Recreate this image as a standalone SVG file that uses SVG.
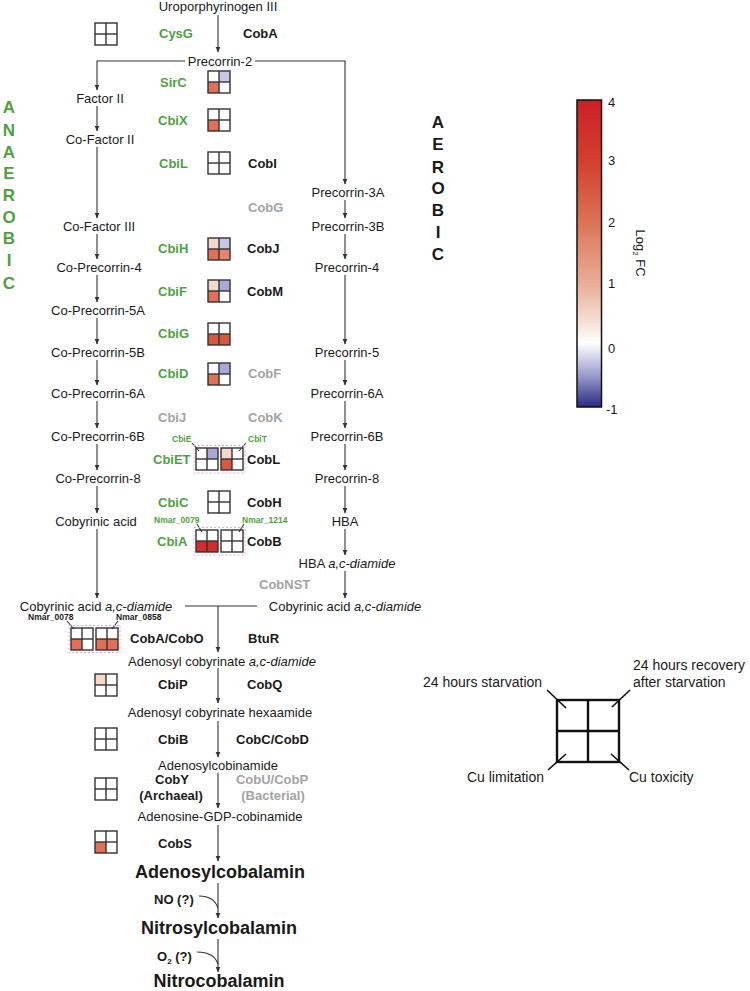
<svg xmlns="http://www.w3.org/2000/svg" xmlns:xlink="http://www.w3.org/1999/xlink" width="750" height="991" viewBox="0 0 750 991">
<style>
text{font-family:"Liberation Sans",Arial,sans-serif;fill:#1a1a1a}
.m{font-size:13px;text-anchor:middle}
.e{font-size:13px;font-weight:bold}
.g{fill:#4fa043}
.gr{fill:#a3a3a3}
.s{font-size:8.5px;font-weight:bold}
.big{font-size:18px;font-weight:bold;text-anchor:middle}
.lt{font-size:17px;font-weight:bold;text-anchor:middle}
.cb{font-size:13px}
.lg{font-size:14px}
.ln{stroke:#333;stroke-width:1.1;fill:none}
.ar{stroke:#333;stroke-width:1.1;fill:none;marker-end:url(#ah)}
.fr{fill:none;stroke:#333;stroke-width:1.4}
.dash{fill:none;stroke:#e9a3b3;stroke-width:0.9;stroke-dasharray:2 2}
.c1{fill:#d42b2b}.c2{fill:#da593e}.c3{fill:#e07058}.c4{fill:#f4d8cc}.c5{fill:#c6c6e8}.c6{fill:#a8a8da}.c7{fill:#e4866c}
</style>
<defs>
<marker id="ah" markerWidth="6" markerHeight="6" refX="5.5" refY="3" orient="auto" markerUnits="userSpaceOnUse"><path d="M0,0.5 L6,3 L0,5.5 z" fill="#333"/></marker>
<g id="grid"><rect x="0" y="0" width="22" height="22" class="fr"/><line x1="11" y1="0" x2="11" y2="22" class="fr"/><line x1="0" y1="11" x2="22" y2="11" class="fr"/></g>
<linearGradient id="cbar" x1="0" y1="0" x2="0" y2="1">
<stop offset="0" stop-color="#cc1f27"/>
<stop offset="0.2" stop-color="#d3402f"/>
<stop offset="0.4" stop-color="#db7457"/>
<stop offset="0.6" stop-color="#e8ae97"/>
<stop offset="0.75" stop-color="#f8ebe5"/>
<stop offset="0.79" stop-color="#ffffff"/>
<stop offset="0.84" stop-color="#d2d3ea"/>
<stop offset="0.91" stop-color="#8c8dc4"/>
<stop offset="1" stop-color="#292b80"/>
</linearGradient>
</defs>
<rect width="750" height="991" fill="#fff"/>

<g id="connectors">
<line x1="218" y1="15" x2="218" y2="52" class="ar"/>
<polyline points="185,61 97,61 97,90" class="ar"/>
<polyline points="255,61 345,61 345,184" class="ar"/>
<line x1="97" y1="106" x2="97" y2="131" class="ar"/>
<line x1="97" y1="147" x2="97" y2="218" class="ar"/>
<line x1="97" y1="234" x2="97" y2="259" class="ar"/>
<line x1="97" y1="275" x2="97" y2="302" class="ar"/>
<line x1="97" y1="318" x2="97" y2="344" class="ar"/>
<line x1="97" y1="360" x2="97" y2="385" class="ar"/>
<line x1="97" y1="401" x2="97" y2="428" class="ar"/>
<line x1="97" y1="444" x2="97" y2="470" class="ar"/>
<line x1="97" y1="486" x2="97" y2="513" class="ar"/>
<line x1="97" y1="529" x2="97" y2="598" class="ar"/>
<line x1="345" y1="200" x2="345" y2="218" class="ar"/>
<line x1="345" y1="234" x2="345" y2="259" class="ar"/>
<line x1="345" y1="275" x2="345" y2="344" class="ar"/>
<line x1="345" y1="360" x2="345" y2="385" class="ar"/>
<line x1="345" y1="401" x2="345" y2="428" class="ar"/>
<line x1="345" y1="444" x2="345" y2="470" class="ar"/>
<line x1="345" y1="486" x2="345" y2="513" class="ar"/>
<line x1="345" y1="529" x2="345" y2="555" class="ar"/>
<line x1="345" y1="571" x2="345" y2="598" class="ar"/>
<line x1="185" y1="606" x2="257" y2="606" class="ln"/>
<line x1="218" y1="606" x2="218" y2="652" class="ar"/>
<line x1="218" y1="668" x2="218" y2="703" class="ar"/>
<line x1="218" y1="721" x2="218" y2="757" class="ar"/>
<line x1="218" y1="773" x2="218" y2="808" class="ar"/>
<line x1="218" y1="825" x2="218" y2="861" class="ar"/>
<line x1="218" y1="883" x2="218" y2="918" class="ar"/>
<path d="M199,896 Q214,896 218,908" class="ln"/>
<line x1="218" y1="939" x2="218" y2="972" class="ar"/>
<path d="M197,952 Q214,952 218,964" class="ln"/>
<line x1="192" y1="443" x2="199" y2="451" class="ln"/>
<line x1="246" y1="443" x2="239" y2="451" class="ln"/>
<line x1="197" y1="524" x2="202" y2="532" class="ln"/>
<line x1="244" y1="524" x2="239" y2="532" class="ln"/>
<line x1="67" y1="621" x2="74" y2="629" class="ln"/>
<line x1="118" y1="621" x2="112" y2="629" class="ln"/>
</g>

<g id="metabolites">
<text class="m" x="218" y="10.5">Uroporphyrinogen III</text>
<text class="m" x="220" y="65.5">Precorrin-2</text>
<text class="m" x="100" y="102.5">Factor II</text>
<text class="m" x="100" y="143.5">Co-Factor II</text>
<text class="m" x="99" y="230.5">Co-Factor III</text>
<text class="m" x="99" y="271.5">Co-Precorrin-4</text>
<text class="m" x="98" y="314.5">Co-Precorrin-5A</text>
<text class="m" x="98" y="356.5">Co-Precorrin-5B</text>
<text class="m" x="98" y="397.5">Co-Precorrin-6A</text>
<text class="m" x="98" y="440.5">Co-Precorrin-6B</text>
<text class="m" x="98" y="482.5">Co-Precorrin-8</text>
<text class="m" x="96" y="525.5">Cobyrinic acid</text>
<text class="m" x="96" y="610.5">Cobyrinic acid <tspan font-style="italic">a,c-diamide</tspan></text>
<text class="m" x="348" y="196.5">Precorrin-3A</text>
<text class="m" x="348" y="230.5">Precorrin-3B</text>
<text class="m" x="347" y="271.5">Precorrin-4</text>
<text class="m" x="347" y="356.5">Precorrin-5</text>
<text class="m" x="347" y="397.5">Precorrin-6A</text>
<text class="m" x="347" y="440.5">Precorrin-6B</text>
<text class="m" x="347" y="482.5">Precorrin-8</text>
<text class="m" x="345" y="525.5">HBA</text>
<text class="m" x="347" y="567.5">HBA <tspan font-style="italic">a,c-diamide</tspan></text>
<text class="m" x="345" y="610.5">Cobyrinic acid <tspan font-style="italic">a,c-diamide</tspan></text>
<text class="m" x="222" y="665.5">Adenosyl cobyrinate <tspan font-style="italic">a,c-diamide</tspan></text>
<text class="m" x="220" y="716.5">Adenosyl cobyrinate hexaamide</text>
<text class="m" x="218" y="769.5">Adenosylcobinamide</text>
<text class="m" x="220" y="821">Adenosine-GDP-cobinamide</text>
<text class="big" x="220" y="878">Adenosylcobalamin</text>
<text class="big" x="219" y="934">Nitrosylcobalamin</text>
<text class="big" x="219" y="986.5">Nitrocobalamin</text>
</g>

<g id="enzymes">
<text class="e g" x="159" y="38">CysG</text>
<text class="e" x="243" y="38">CobA</text>
<text class="e g" x="160" y="86.5">SirC</text>
<text class="e g" x="158" y="124.5">CbiX</text>
<text class="e g" x="159" y="167.5">CbiL</text>
<text class="e" x="248" y="167.5">CobI</text>
<text class="e gr" x="248" y="211.5">CobG</text>
<text class="e g" x="158" y="252.5">CbiH</text>
<text class="e" x="247" y="252.5">CobJ</text>
<text class="e g" x="158" y="295.5">CbiF</text>
<text class="e" x="247" y="295.5">CobM</text>
<text class="e g" x="158" y="337.5">CbiG</text>
<text class="e g" x="158" y="377.5">CbiD</text>
<text class="e gr" x="248" y="377.5">CobF</text>
<text class="e gr" x="158" y="421.5">CbiJ</text>
<text class="e gr" x="248" y="421.5">CobK</text>
<text class="s g" x="172" y="442">CbiE</text>
<text class="s g" x="248" y="442">CbiT</text>
<text class="e g" x="153" y="463.5">CbiET</text>
<text class="e" x="247" y="463.5">CobL</text>
<text class="e g" x="158" y="506.5">CbiC</text>
<text class="e" x="247" y="506.5">CobH</text>
<text class="s g" x="154" y="523">Nmar_0079</text>
<text class="s g" x="242" y="523">Nmar_1214</text>
<text class="e g" x="157" y="545.5">CbiA</text>
<text class="e" x="247" y="545.5">CobB</text>
<text class="e gr" x="259" y="588.5">CobNST</text>
<text class="s" x="28" y="620">Nmar_0078</text>
<text class="s" x="116" y="620">Nmar_0858</text>
<text class="e" x="130" y="642.5">CobA/CobO</text>
<text class="e" x="248" y="642.5">BtuR</text>
<text class="e" x="158" y="688.5">CbiP</text>
<text class="e" x="247" y="688.5">CobQ</text>
<text class="e" x="158" y="743.5">CbiB</text>
<text class="e" x="236" y="743.5">CobC/CobD</text>
<text class="e" x="172" y="783.5" text-anchor="middle">CobY</text>
<text class="e" x="171" y="799.5" text-anchor="middle">(Archaeal)</text>
<text class="e gr" x="272" y="783.5" text-anchor="middle">CobU/CobP</text>
<text class="e gr" x="273" y="799.5" text-anchor="middle">(Bacterial)</text>
<text class="e" x="158" y="847.5">CobS</text>
<text class="e" x="154" y="903.5">NO (?)</text>
<text class="e" x="157" y="960.5">O<tspan font-size="8" dy="3">2</tspan><tspan dy="-3"> (?)</tspan></text>
</g>

<g id="heatmaps">
<g id="hm-cysg" transform="translate(95,23)"><use xlink:href="#grid"/></g>
<g id="hm-sirc" transform="translate(208,71)"><rect x="11" y="0" width="11" height="11" class="c5"/><rect x="0" y="11" width="11" height="11" class="c3"/><use xlink:href="#grid"/></g>
<g id="hm-cbix" transform="translate(208,109)"><rect x="0" y="11" width="11" height="11" class="c3"/><use xlink:href="#grid"/></g>
<g id="hm-cbil" transform="translate(208,152)"><use xlink:href="#grid"/></g>
<g id="hm-cbih" transform="translate(208,238)"><rect x="0" y="0" width="11" height="11" class="c4"/><rect x="11" y="0" width="11" height="11" class="c5"/><rect x="0" y="11" width="11" height="11" class="c3"/><rect x="11" y="11" width="11" height="11" class="c7"/><use xlink:href="#grid"/></g>
<g id="hm-cbif" transform="translate(208,280)"><rect x="0" y="0" width="11" height="11" class="c4"/><rect x="11" y="0" width="11" height="11" class="c6"/><rect x="0" y="11" width="11" height="11" class="c3"/><use xlink:href="#grid"/></g>
<g id="hm-cbig" transform="translate(208,323)"><rect x="0" y="11" width="11" height="11" class="c2"/><rect x="11" y="11" width="11" height="11" class="c2"/><use xlink:href="#grid"/></g>
<g id="hm-cbid" transform="translate(208,363)"><rect x="11" y="0" width="11" height="11" class="c6"/><rect x="0" y="11" width="11" height="11" class="c3"/><use xlink:href="#grid"/></g>
<g id="hm-cbie" transform="translate(196,448)"><rect x="11" y="0" width="11" height="11" class="c6"/><use xlink:href="#grid"/></g>
<g id="hm-cbit" transform="translate(221,448)"><rect x="0" y="0" width="11" height="11" class="c4"/><rect x="0" y="11" width="11" height="11" class="c2"/><use xlink:href="#grid"/></g>
<rect x="194" y="445.5" width="51" height="27.5" class="dash"/>
<g id="hm-cbic" transform="translate(208,491)"><use xlink:href="#grid"/></g>
<g id="hm-nmar0079" transform="translate(196,530)"><rect x="0" y="11" width="11" height="11" class="c1"/><rect x="11" y="11" width="11" height="11" class="c1"/><use xlink:href="#grid"/></g>
<g id="hm-nmar1214" transform="translate(221,530)"><use xlink:href="#grid"/></g>
<rect x="194" y="527.5" width="51" height="27.5" class="dash"/>
<g id="hm-nmar0078" transform="translate(71,628)"><rect x="0" y="11" width="11" height="11" class="c3"/><use xlink:href="#grid"/></g>
<g id="hm-nmar0858" transform="translate(96,628)"><rect x="0" y="11" width="11" height="11" class="c3"/><rect x="11" y="11" width="11" height="11" class="c3"/><use xlink:href="#grid"/></g>
<rect x="69" y="625.5" width="51" height="27" class="dash"/>
<g id="hm-cbip" transform="translate(95,674)"><rect x="0" y="0" width="11" height="11" class="c4"/><use xlink:href="#grid"/></g>
<g id="hm-cbib" transform="translate(95,728)"><use xlink:href="#grid"/></g>
<g id="hm-coby" transform="translate(95,778)"><use xlink:href="#grid"/></g>
<g id="hm-cobs" transform="translate(95,831)"><rect x="0" y="11" width="11" height="11" class="c3"/><use xlink:href="#grid"/></g>
</g>

<g id="anaerobic-label">
<text class="lt g" x="9" y="113">A</text>
<text class="lt g" x="9" y="136">N</text>
<text class="lt g" x="9" y="158">A</text>
<text class="lt g" x="9" y="179">E</text>
<text class="lt g" x="9" y="201">R</text>
<text class="lt g" x="9" y="223">O</text>
<text class="lt g" x="9" y="244">B</text>
<text class="lt g" x="9" y="266">I</text>
<text class="lt g" x="9" y="289">C</text>
</g>
<g id="aerobic-label">
<text class="lt" x="438" y="128">A</text>
<text class="lt" x="438" y="150">E</text>
<text class="lt" x="438" y="173">R</text>
<text class="lt" x="438" y="194">O</text>
<text class="lt" x="438" y="216">B</text>
<text class="lt" x="438" y="238">I</text>
<text class="lt" x="438" y="260">C</text>
</g>

<g id="colorbar">
<rect x="577" y="100" width="24.5" height="307" fill="url(#cbar)" stroke="#111" stroke-width="1.5"/>
<text class="cb" x="608" y="107">4</text>
<text class="cb" x="608" y="165">3</text>
<text class="cb" x="608" y="227">2</text>
<text class="cb" x="608" y="288">1</text>
<text class="cb" x="608" y="353">0</text>
<text class="cb" x="606" y="414">-1</text>
<text class="cb" transform="translate(636,253) rotate(90)" text-anchor="middle">Log<tspan font-size="8" dy="3">2</tspan><tspan dy="-3"> FC</tspan></text>
</g>

<g id="legend">
<rect x="557" y="700" width="62" height="62" fill="none" stroke="#111" stroke-width="2.4"/>
<line x1="588" y1="700" x2="588" y2="762" stroke="#111" stroke-width="2.4"/>
<line x1="557" y1="731" x2="619" y2="731" stroke="#111" stroke-width="2.4"/>
<line x1="547" y1="690" x2="566" y2="708" stroke="#111" stroke-width="1.6"/>
<line x1="630" y1="690" x2="612" y2="707" stroke="#111" stroke-width="1.6"/>
<line x1="566" y1="754" x2="548" y2="770" stroke="#111" stroke-width="1.6"/>
<line x1="611" y1="754" x2="629" y2="770" stroke="#111" stroke-width="1.6"/>
<text class="lg" x="423" y="687">24 hours starvation</text>
<text class="lg" x="633" y="670">24 hours recovery</text>
<text class="lg" x="633" y="687">after starvation</text>
<text class="lg" x="544" y="782" text-anchor="end">Cu limitation</text>
<text class="lg" x="629" y="782">Cu toxicity</text>
</g>
</svg>
